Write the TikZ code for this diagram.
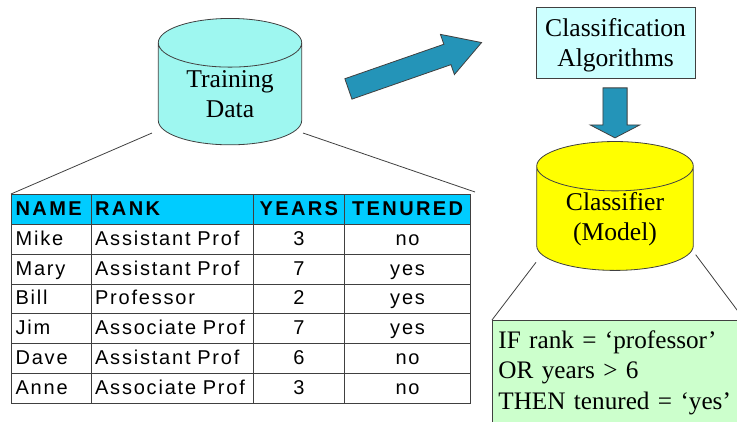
\documentclass[tikz,border=0pt]{standalone}
\usepackage{fontspec}
\setmainfont{Liberation Serif}
\newfontfamily\tablefont[LetterSpace=9,WordSpace=1.6]{Liberation Sans}
\newfontfamily\tableheadfont[LetterSpace=12]{Liberation Sans Bold}
\usetikzlibrary{positioning,calc,matrix,shapes.geometric,shapes.arrows}
\definecolor{color-1}{rgb}{0.62,0.97,0.94}
\definecolor{color-2}{rgb}{0.8,1,1}
\definecolor{color-3}{rgb}{0.8,1,0.8}
\definecolor{color-4}{rgb}{0.14,0.58,0.72}
\definecolor{color-5}{rgb}{0,0.8,1}
\definecolor{color-6}{rgb}{0.25,0.25,0.25}
\definecolor{color-7}{rgb}{1,1,0}
\tikzset{
serifbig/.style={font=\fontsize{25.6}{30}\selectfont, text=black, align=center},
store/.style={cylinder, shape border rotate=90, draw=color-6, line width=0.8pt, cylinder uses custom fill, inner sep=0pt, serifbig},
blockarrow/.style={single arrow, draw=color-6, fill=color-4, line width=0.8pt, inner xsep=0pt, single arrow head indent=0pt},
tablecell/.style={draw=color-6, line width=0.8pt, inner ysep=0pt, inner xsep=4pt, minimum height=29.8pt, text height=14pt, text depth=2pt, anchor=center, font=\tablefont\fontsize{20}{22}\selectfont}
}

\begin{document}
\begin{tikzpicture}[x=1pt,y=-1pt]
\clip (0,0) rectangle (737,421);
\coordinate (a) at (230,94);%middle of the training store
\coordinate (b) at (615,218.5);%middle of the classifier store
\coordinate (c) at (482.3,42.3);%tip of the big arrow
\coordinate (d) at (615,138.3);%tip of the small arrow
\node [name=trainingdata,
store,
shape aspect=0.558,
cylinder body fill=color-1,
cylinder end fill=color-1,
minimum width=143.4pt,
minimum height=126.4pt] at (a)
{Training\\Data};

\node [name=classifier,
store,
shape aspect=0.503,
cylinder body fill=color-7,
cylinder end fill=color-7,
text height=49pt,
minimum width=156.6pt,
minimum height=125pt] at (b)
{Classifier\\(Model)};

\node [name=algorithms,
serifbig,
draw=color-6,
fill=color-2,
line width=0.8pt,
text height=53.5pt,
minimum width=159.3pt,
minimum height=71pt] at (615.6,42.5)
{Classification\\Algorithms};

\node [name=bigarrow,
blockarrow,
anchor=tip,
rotate=19.2,
inner ysep=10.4pt,
minimum height=141pt,
minimum width=41.8pt,
single arrow head extend=10.5pt,
single arrow tip angle=61] at (c) {};

\node [name=smallarrow,
blockarrow,
anchor=tip,
rotate=-90,
inner ysep=11.7pt,
minimum height=50pt,
minimum width=48.6pt,
single arrow head extend=12.6pt,
single arrow tip angle=125] at (d) {};

\matrix [name=trainingtable,
matrix of nodes,
anchor=north west,
inner sep=0pt,
row sep=-0.8pt,
column sep=-0.8pt,
nodes={tablecell},
column 1/.style={nodes={text width=71.5pt, align=left}},
column 2/.style={nodes={text width=154pt, align=left}},
column 3/.style={nodes={text width=83.5pt, align=center}},
column 4/.style={nodes={text width=118pt, align=center}},
row 1/.style={nodes={fill=color-5, font=\tableheadfont\fontsize{20}{22}\selectfont}}] at (11,194)
{
NAME & RANK & YEARS & TENURED \\
Mike & Assistant Prof & 3 & no \\
Mary & Assistant Prof & 7 & yes \\
Bill & Professor & 2 & yes \\
Jim & Associate Prof & 7 & yes \\
Dave & Assistant Prof & 6 & no \\
Anne & Associate Prof & 3 & no \\
};

\node [name=rulebox,
anchor=north west,
draw=color-6,
fill=color-3,
line width=0.8pt,
align=left,
text=black,
inner xsep=6pt,
inner ysep=10pt,
text width=250pt,
text depth=80pt,
font=\fontsize{25.2}{30.6}\selectfont] at (492,320)
{IF rank = ‘professor’\\
OR years > 6\\
THEN tenured = ‘yes’};

\coordinate (e) at (152,133);
\coordinate (f) at (303,133);
\coordinate (g) at (475,192);
\coordinate (h) at (536,262.3);
\coordinate (i) at (695.7,254.7);
\coordinate (j) at (755,334);
\draw [color-6, line width=0.8pt] (e) -- (trainingtable.north west);
\draw [color-6, line width=0.8pt] (f) -- (g);
\draw [color-6, line width=0.8pt] (h) -- (rulebox.north west);
\draw [color-6, line width=0.8pt] (i) -- (j);

\end{tikzpicture}
\end{document}
